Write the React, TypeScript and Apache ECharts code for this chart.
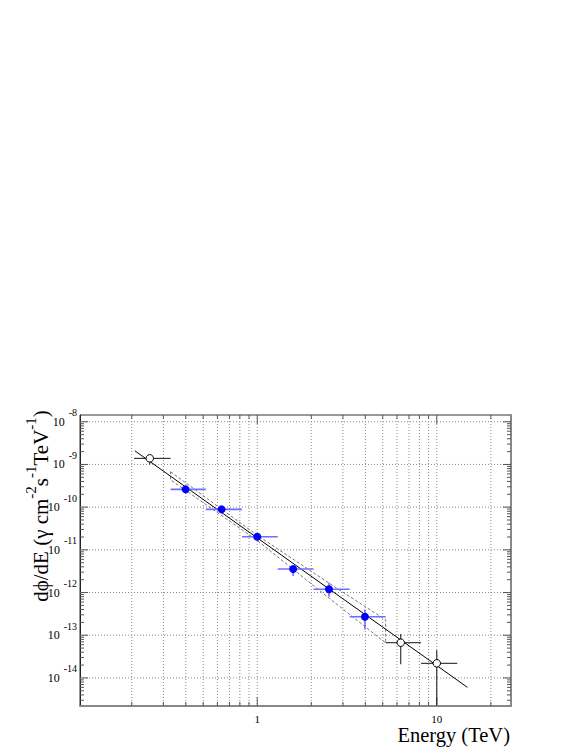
import React, { useEffect, useRef } from 'react';
import * as echarts from 'echarts';

// ---- data ----
const blueE = [0.399, 0.633, 1.0, 1.585, 2.51, 3.98];
const blueFlux = [2.61e-10, 8.87e-11, 2.03e-11, 3.55e-12, 1.19e-12, 2.71e-13];
const blueELo = [0.329, 0.517, 0.822, 1.3, 2.06, 3.27];
const blueEHi = [0.517, 0.822, 1.3, 2.06, 3.27, 5.19];
const blueFluxLo = [2.4e-10, 8.1e-11, 1.85e-11, 2.45e-12, 7.94e-13, 1.37e-13];
const blueFluxHi = [2.85e-10, 9.7e-11, 2.22e-11, 4.17e-12, 1.7e-12, 4.03e-13];

const openE = [0.252, 6.3, 10.0];
const openFlux = [1.39e-9, 6.68e-14, 2.2e-14];
const openELo = [0.206, 5.19, 8.17];
const openEHi = [0.329, 8.17, 13.0];
const openFluxLo = [1.0e-9, 2.09e-14, 2.3e-15];
const openFluxHi = [1.55e-9, 1.07e-13, 4.47e-14];

const fitE = [0.208, 14.8];
const fitFlux = [2.09e-9, 6.03e-15];

const bandE = [0.329, 1.0, 2.51, 5.19, 5.19, 2.51, 1.0, 0.329, 0.329];
const bandFlux = [6.76e-10, 2.19e-11, 1.66e-12, 2.29e-13, 6.61e-14, 7.41e-13, 1.66e-11, 4.37e-10, 6.76e-10];

const xMin = 0.103;
const xMax = 25.9;
const yMin = 2.2e-15;
const yMax = 1.44e-8;

const xGridVals = [0.2, 0.3, 0.4, 0.5, 0.6, 0.7, 0.8, 0.9, 1, 2, 3, 4, 5, 6, 7, 8, 9, 10, 20];
const yGridVals = [1e-14, 1e-13, 1e-12, 1e-11, 1e-10, 1e-9, 1e-8];
const yDecades = [-15, -14, -13, -12, -11, -10, -9, -8];
const mults = [1, 2, 3, 4, 5, 6, 7, 8, 9];

const FONT = 'Liberation Serif';

export default function App() {
  const ref = useRef<HTMLDivElement>(null);
  useEffect(() => {
    document.body.style.margin = '0';
    const chart = echarts.init(ref.current!, undefined, { renderer: 'svg' });

    const yTicks: number[][] = [];
    yDecades.forEach((d) => {
      mults.forEach((m) => {
        const v = m * Math.pow(10, d);
        if (v > yMin && v < yMax) yTicks.push([xMin, v, m === 1 ? 1 : 0]);
      });
    });
    const xTicks: number[][] = xGridVals.map((v) => [v, yMin, v === 1 || v === 10 ? 1 : 0]);

    const errRender = (color: string, width: number) => (params: any, api: any) => {
      const c = api.coord([api.value(0), api.value(1)]);
      const l = api.coord([api.value(2), api.value(1)]);
      const r = api.coord([api.value(3), api.value(1)]);
      const lo = api.coord([api.value(0), api.value(4)]);
      const hi = api.coord([api.value(0), api.value(5)]);
      return {
        type: 'group',
        children: [
          { type: 'line', shape: { x1: l[0], y1: c[1], x2: r[0], y2: c[1] }, style: { stroke: color, lineWidth: width } },
          { type: 'line', shape: { x1: c[0], y1: lo[1], x2: c[0], y2: hi[1] }, style: { stroke: color, lineWidth: width } },
        ],
      };
    };

    const gridStyle = { stroke: '#8a8a8a', lineWidth: 1, lineDash: [1, 2] };
    const tickStyle = { stroke: '#555', lineWidth: 1 };

    const option: any = {
      animation: false,
      backgroundColor: '#fff',
      textStyle: { fontFamily: FONT },
      grid: { left: 80, top: 415, right: 70, bottom: 46, show: true, borderColor: '#333', borderWidth: 1, backgroundColor: 'transparent' },
      xAxis: {
        type: 'log',
        logBase: 10,
        min: xMin,
        max: xMax,
        axisLine: { show: true, lineStyle: { color: '#888', width: 2 } },
        axisTick: { show: false },
        splitLine: { show: false },
        axisLabel: {
          margin: 8,
          fontFamily: FONT,
          fontSize: 11,
          lineHeight: 10,
          color: '#000',
          formatter: (v: number) => {
            if (Math.abs(v - 1) < 1e-6) return '1';
            if (Math.abs(v - 10) < 1e-5) return '10';
            return '';
          },
        },
      },
      yAxis: [
        {
          type: 'log',
          logBase: 10,
          min: yMin,
          max: yMax,
          axisLine: { show: true, lineStyle: { color: '#222', width: 1 } },
          axisTick: { show: false },
          splitLine: { show: false },
          axisLabel: {
            margin: 3,
            formatter: (v: number) => {
              const e = Math.log10(v);
              const r = Math.round(e);
              if (Math.abs(e - r) > 0.01) return '';
              return '{b|10}{s|' + String(r) + '}';
            },
            rich: {
              b: { fontFamily: FONT, fontSize: 12, color: '#000', lineHeight: 28, verticalAlign: 'middle' },
              s: { fontFamily: FONT, fontSize: 10, color: '#000', lineHeight: 10, verticalAlign: 'top', padding: [0, 0, 0, 4] },
            },
          },
        },
        {
          type: 'log',
          logBase: 10,
          min: yMin,
          max: yMax,
          position: 'right',
          axisLine: { show: true, lineStyle: { color: '#888', width: 2 } },
          axisTick: { show: false },
          splitLine: { show: false },
          axisLabel: { show: false },
        },
      ],
      graphic: [
        {
          type: 'text',
          x: 41,
          y: 506,
          rotation: Math.PI / 2,
          style: {
            text: '{t|dϕ/dE (γ cm}{s|-2}{t|s}{s|-1}{t|TeV}{s|-1}{t|)}',
            align: 'center',
            verticalAlign: 'middle',
            rich: {
              t: { fontFamily: FONT, fontSize: 21, fill: '#000', lineHeight: 36, verticalAlign: 'middle' },
              s: { fontFamily: FONT, fontSize: 15, fill: '#000', lineHeight: 16, verticalAlign: 'top' },
            },
          },
        },
        {
          type: 'text',
          x: 510,
          y: 735,
          style: { text: 'Energy (TeV)', fontFamily: FONT, fontSize: 20.5, lineHeight: 20, fill: '#000', align: 'right', verticalAlign: 'middle' },
        },
      ],
      series: [
        {
          name: 'xgrid',
          type: 'custom',
          z: 1,
          silent: true,
          data: xGridVals.map((v) => [v, yMin]),
          renderItem: (params: any, api: any) => {
            const cs = params.coordSys;
            const p = api.coord([api.value(0), yMin]);
            return { type: 'line', shape: { x1: p[0], y1: cs.y, x2: p[0], y2: cs.y + cs.height }, style: gridStyle };
          },
        },
        {
          name: 'ygrid',
          type: 'custom',
          z: 1,
          silent: true,
          data: yGridVals.map((v) => [xMin, v]),
          renderItem: (params: any, api: any) => {
            const cs = params.coordSys;
            const p = api.coord([xMin, api.value(1)]);
            return { type: 'line', shape: { x1: cs.x, y1: p[1], x2: cs.x + cs.width, y2: p[1] }, style: gridStyle };
          },
        },
        {
          name: 'yticks',
          type: 'custom',
          z: 2,
          silent: true,
          data: yTicks,
          renderItem: (params: any, api: any) => {
            const cs = params.coordSys;
            const p = api.coord([xMin, api.value(1)]);
            const len = api.value(2) === 1 ? 8 : 4;
            return {
              type: 'group',
              children: [
                { type: 'line', shape: { x1: cs.x, y1: p[1], x2: cs.x + len, y2: p[1] }, style: tickStyle },
                { type: 'line', shape: { x1: cs.x + cs.width - len, y1: p[1], x2: cs.x + cs.width, y2: p[1] }, style: tickStyle },
              ],
            };
          },
        },
        {
          name: 'xticks',
          type: 'custom',
          z: 2,
          silent: true,
          data: xTicks,
          renderItem: (params: any, api: any) => {
            const cs = params.coordSys;
            const p = api.coord([api.value(0), yMin]);
            const len = api.value(2) === 1 ? 9 : 4;
            return {
              type: 'group',
              children: [
                { type: 'line', shape: { x1: p[0], y1: cs.y + cs.height, x2: p[0], y2: cs.y + cs.height - len }, style: tickStyle },
                { type: 'line', shape: { x1: p[0], y1: cs.y, x2: p[0], y2: cs.y + len }, style: tickStyle },
              ],
            };
          },
        },
        {
          name: 'band',
          type: 'line',
          z: 3,
          silent: true,
          symbol: 'none',
          data: bandE.map((e, i) => [e, bandFlux[i]]),
          lineStyle: { color: '#777', width: 1, type: [3, 2] },
        },
        {
          name: 'fit',
          type: 'line',
          z: 4,
          silent: true,
          symbol: 'none',
          data: fitE.map((e, i) => [e, fitFlux[i]]),
          lineStyle: { color: '#000', width: 1 },
        },
        {
          name: 'blueErr',
          type: 'custom',
          z: 5,
          clip: true,
          silent: true,
          data: blueE.map((e, i) => [e, blueFlux[i], blueELo[i], blueEHi[i], blueFluxLo[i], blueFluxHi[i]]),
          renderItem: errRender('#6f6fff', 1.6),
        },
        {
          name: 'openErr',
          type: 'custom',
          z: 5,
          clip: true,
          silent: true,
          data: openE.map((e, i) => [e, openFlux[i], openELo[i], openEHi[i], openFluxLo[i], openFluxHi[i]]),
          renderItem: errRender('#111', 1),
        },
        {
          name: 'blue',
          type: 'scatter',
          z: 6,
          symbol: 'circle',
          symbolSize: 8,
          data: blueE.map((e, i) => [e, blueFlux[i]]),
          itemStyle: { color: '#0000ff', opacity: 1 },
        },
        {
          name: 'open',
          type: 'scatter',
          z: 6,
          symbol: 'circle',
          symbolSize: 7.5,
          data: openE.map((e, i) => [e, openFlux[i]]),
          itemStyle: { color: '#fff', borderColor: '#000', borderWidth: 1, opacity: 1 },
        },
      ],
    };
    chart.setOption(option);
    return () => chart.dispose();
  }, []);
  return <div ref={ref} style={{ width: 581, height: 752 }} />;
}
